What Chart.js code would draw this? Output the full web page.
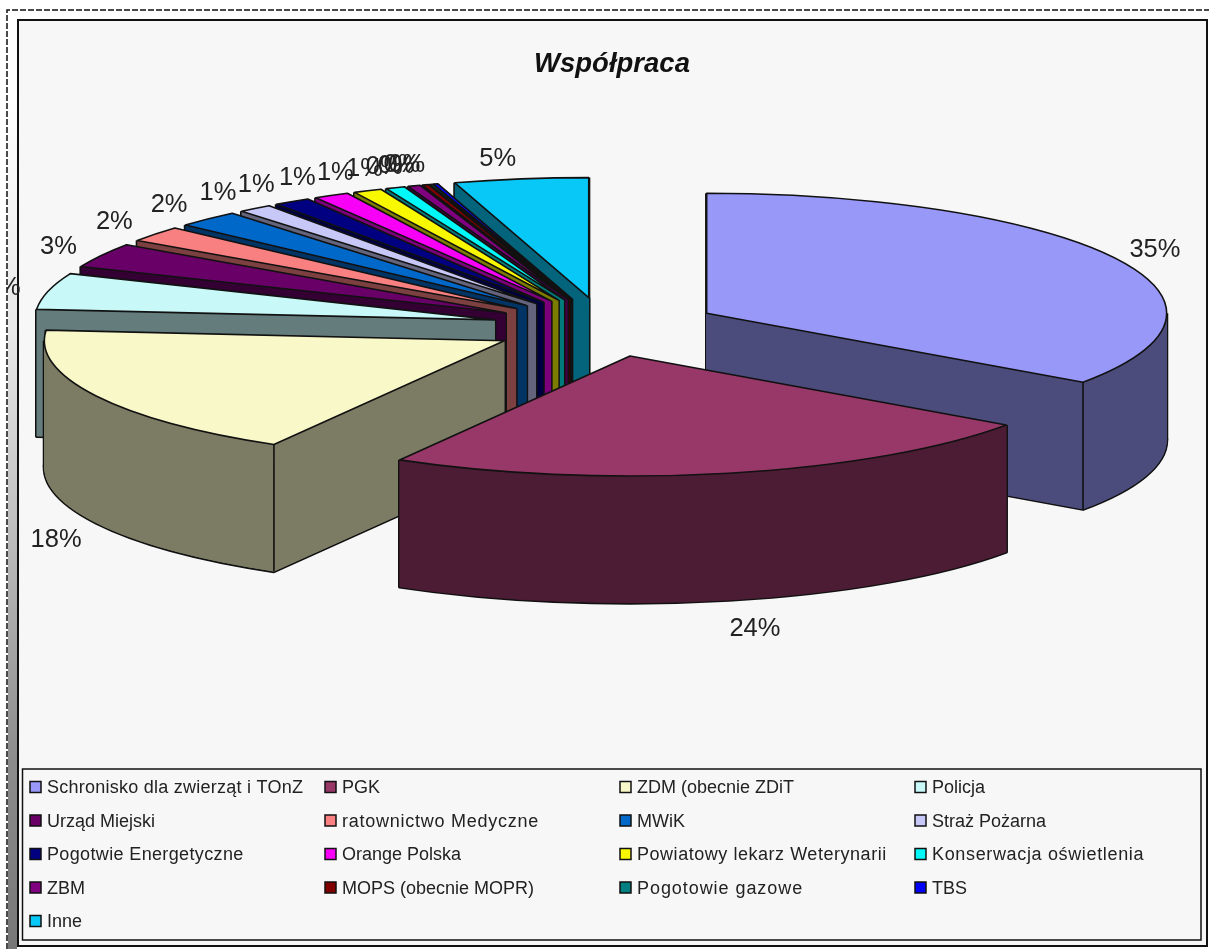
<!DOCTYPE html>
<html>
<head>
<meta charset="utf-8">
<title>Współpraca</title>
<script src="https://cdn.jsdelivr.net/npm/chart.js@4"></script>
<style>
  html, body { margin: 0; padding: 0; background: #fff; }
  canvas { display: block; }
</style>
</head>
<body>
<canvas id="c_chart" width="1209" height="949"></canvas>
<script>
const chartTitle = "Współpraca";
const categories = [
  "Schronisko dla zwierząt i TOnZ", "PGK", "ZDM (obecnie ZDiT", "Policja",
  "Urząd Miejski", "ratownictwo Medyczne", "MWiK", "Straż Pożarna",
  "Pogotwie Energetyczne", "Orange Polska", "Powiatowy lekarz Weterynarii", "Konserwacja oświetlenia",
  "ZBM", "MOPS (obecnie MOPR)", "Pogotowie gazowe", "TBS",
  "Inne"
];
const shares = [34.75, 23.6, 18.05, 4.9, 3.3, 2.1, 2.25, 1.2, 1.3, 1.25, 1.0, 0.67, 0.44, 0.22, 0.1, 0.17, 4.7];
const sliceColors = [
  "#9898F8", "#983868", "#F8F8C8", "#C8F8F8",
  "#680068", "#F88080", "#0068C8", "#C8C8F8",
  "#000080", "#F800F8", "#F8F800", "#00F8F8",
  "#800080", "#800000", "#008080", "#0000F8",
  "#08C8F8"
];

const font = "Liberation Sans, Arial, sans-serif";
const pieRadius = 460;
const squash = 120 / pieRadius;   // height/width of the tilted pie
const depth = 127;                // wall height
const explode = 114;              // every slice is pulled out by this much
const pieCenterX = 605.5;
const pieCenterY = 327;
const lineColor = "#111";

function halfShade(hex) {
  let n = parseInt(hex.slice(1), 16);
  let r = (n >> 16) >> 1, g = ((n >> 8) & 255) >> 1, b = (n & 255) >> 1;
  return `rgb(${r},${g},${b})`;
}

function sliceGeometry(arc) {
  let mid = (arc.startAngle + arc.endAngle) / 2;
  return {
    mid,
    x: pieCenterX + explode * Math.cos(mid),
    y: pieCenterY + explode * squash * Math.sin(mid),
    r: arc.outerRadius,
    start: arc.startAngle,
    end: arc.endAngle
  };
}

function rimPoint(g, angle) {
  return { x: g.x + g.r * Math.cos(angle), y: g.y + g.r * squash * Math.sin(angle) };
}

function tracePath(ctx, g, dy) {
  ctx.beginPath();
  ctx.moveTo(g.x, g.y + dy);
  ctx.ellipse(g.x, g.y + dy, g.r, g.r * squash, 0, g.start, g.end);
  ctx.closePath();
}

function drawFace(ctx, arc, g, dy, color) {
  let saved = arc.options;
  arc.options = Object.assign({}, saved, { backgroundColor: color, borderWidth: 0 });
  ctx.save();
  ctx.translate(g.x, g.y + dy);
  ctx.scale(1, squash);
  ctx.translate(-arc.x, -arc.y);
  arc.draw(ctx);
  ctx.restore();
  arc.options = saved;
}

function vertical(ctx, g, angle) {
  let p = rimPoint(g, angle);
  ctx.beginPath();
  ctx.moveTo(p.x, p.y);
  ctx.lineTo(p.x, p.y + depth);
  ctx.stroke();
}

// flat fill over the stacked faces so the wall has no banding
function smoothWall(ctx, g) {
  // only the front half of the rim shows
  let from = Math.max(g.start, 0);
  let to = Math.min(g.end, Math.PI);
  if (to > from) {
    ctx.beginPath();
    ctx.ellipse(g.x, g.y, g.r, g.r * squash, 0, from, to);
    ctx.ellipse(g.x, g.y + depth, g.r, g.r * squash, 0, to, from, true);
    ctx.closePath();
    ctx.fill();
  }
  [g.start, g.end].forEach((a) => {
    let p = rimPoint(g, a);
    ctx.beginPath();
    ctx.moveTo(g.x, g.y);
    ctx.lineTo(p.x, p.y);
    ctx.lineTo(p.x, p.y + depth);
    ctx.lineTo(g.x, g.y + depth);
    ctx.closePath();
    ctx.fill();
  });
}

function drawSlice(ctx, arc, color) {
  let g = sliceGeometry(arc);
  ctx.strokeStyle = lineColor;
  ctx.lineJoin = "round";

  // silhouette first, the wall then covers its inner half
  ctx.lineWidth = 3.2;
  tracePath(ctx, g, depth);
  ctx.stroke();
  [g.start, g.end, 0, Math.PI].forEach((a) => {
    if (a >= g.start && a <= g.end) vertical(ctx, g, a);
  });
  ctx.beginPath();
  ctx.moveTo(g.x, g.y);
  ctx.lineTo(g.x, g.y + depth);
  ctx.stroke();

  let wall = halfShade(color);
  for (let dy = depth; dy > 0; dy--) drawFace(ctx, arc, g, dy, wall);
  ctx.fillStyle = wall;
  smoothWall(ctx, g);

  // edges between two walls that both face the viewer
  ctx.lineWidth = 1.6;
  if (Math.cos(g.start) < 0 && Math.sin(g.start) > 0) vertical(ctx, g, g.start);
  if (Math.cos(g.end) > 0 && Math.sin(g.end) > 0) vertical(ctx, g, g.end);

  drawFace(ctx, arc, g, 0, color);
  tracePath(ctx, g, 0);
  ctx.stroke();
}

function drawPercent(ctx, arc, value, total) {
  let g = sliceGeometry(arc);
  let sin = Math.sin(g.mid);
  let x = g.x + (g.r + 47) * Math.cos(g.mid) + 17 * sin * sin * sin;
  let y = g.y + 142 * sin + 2;
  if (sin > 0) y += depth + 5;
  ctx.fillText(Math.round(value / total * 100) + "%", x, y);
}

const frame3d = {
  id: "frame3d",
  beforeDraw(chart) {
    let ctx = chart.ctx;
    ctx.save();
    ctx.fillStyle = "#fff";
    ctx.fillRect(0, 0, 1209, 949);

    let strip = ctx.createLinearGradient(0, 0, 0, 949);
    strip.addColorStop(0.1, "#fff");
    strip.addColorStop(0.35, "#e8e8e8");
    strip.addColorStop(0.8, "#8c8c8c");
    strip.addColorStop(1, "#777");
    ctx.fillStyle = strip;
    ctx.fillRect(8, 11, 9, 938);

    ctx.strokeStyle = "#111";
    ctx.lineWidth = 1.5;
    ctx.setLineDash([6, 2]);
    ctx.beginPath();
    ctx.moveTo(7, 949);
    ctx.lineTo(7, 10);
    ctx.lineTo(1209, 10);
    ctx.stroke();
    ctx.setLineDash([]);

    ctx.fillStyle = "#f7f7f7";
    ctx.fillRect(18, 20, 1189, 926);
    ctx.lineWidth = 2;
    ctx.strokeRect(18, 20, 1189, 926);
    ctx.restore();
  },
  beforeDatasetsDraw(chart) {
    let ctx = chart.ctx;
    let arcs = chart.getDatasetMeta(0).data;
    let colors = chart.data.datasets[0].backgroundColor;
    let values = chart.data.datasets[0].data;
    let total = values.reduce((a, b) => a + b, 0);

    // back slices first
    let order = arcs.map((arc, i) => i);
    order.sort((a, b) => sliceGeometry(arcs[a]).y - sliceGeometry(arcs[b]).y);

    ctx.save();
    order.forEach((i) => drawSlice(ctx, arcs[i], colors[i]));
    ctx.restore();

    ctx.save();
    ctx.beginPath();
    ctx.rect(7, 0, 1202, 949);
    ctx.clip();
    ctx.fillStyle = "#222";
    ctx.font = "25.5px " + font;
    ctx.textAlign = "center";
    ctx.textBaseline = "middle";
    arcs.forEach((arc, i) => drawPercent(ctx, arc, values[i], total));
    ctx.restore();
    return false;
  },
  afterDraw(chart) {
    // legend is a 4 column grid, the built in one can't line its columns up
    let ctx = chart.ctx;
    let colors = chart.data.datasets[0].backgroundColor;
    ctx.save();
    ctx.strokeStyle = "#111";
    ctx.lineWidth = 1.5;
    ctx.strokeRect(22.5, 769, 1178.5, 171);
    ctx.font = "18px " + font;
    ctx.textBaseline = "middle";
    chart.data.labels.forEach((label, i) => {
      let col = i % 4, row = Math.floor(i / 4);
      let x = 30 + col * 295;
      let y = 787 + row * 33.5;
      ctx.fillStyle = colors[i];
      ctx.fillRect(x, y - 5.5, 11, 11);
      ctx.strokeRect(x, y - 5.5, 11, 11);
      // the original spaces out every lowercase w
      let wCount = (label.match(/w/g) || []).length;
      ctx.letterSpacing = (7.5 * wCount / label.length) + "px";
      ctx.fillStyle = "#222";
      ctx.fillText(label, x + 17, y + 1.5);
      ctx.letterSpacing = "0px";
    });
    ctx.restore();
  }
};

new Chart(document.getElementById("c_chart").getContext("2d"), {
  type: "pie",
  plugins: [frame3d],
  data: {
    labels: categories,
    datasets: [{
      data: shares,
      backgroundColor: sliceColors,
      borderWidth: 0
    }]
  },
  options: {
    responsive: false,
    animation: false,
    radius: pieRadius,
    events: [],
    layout: { padding: { left: 15 } },
    plugins: {
      legend: { display: false },
      tooltip: { enabled: false },
      title: {
        display: true,
        text: chartTitle,
        color: "#111",
        padding: { top: 48, bottom: 0 },
        font: { family: font, size: 27.5, style: "italic", weight: "bold" }
      }
    }
  }
});
</script>
</body>
</html>
